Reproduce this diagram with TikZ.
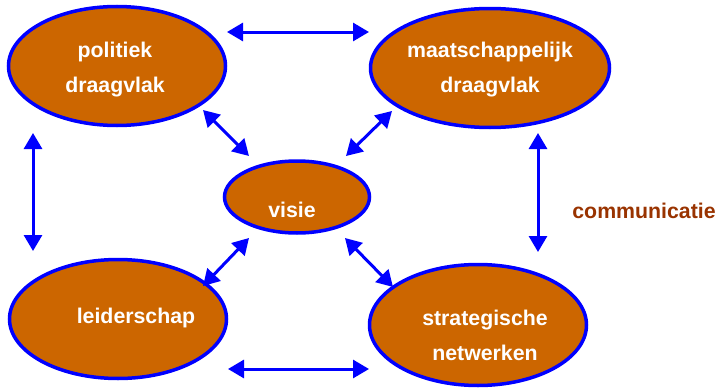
\documentclass[tikz,border=0pt]{standalone}
\usepackage{fontspec}
\setmainfont{Liberation Sans}
\usetikzlibrary{shapes.geometric,arrows.meta}
\definecolor{fillor}{HTML}{CC6600}
\definecolor{bblue}{HTML}{0000FF}
\definecolor{commc}{HTML}{993300}
\begin{document}
\begin{tikzpicture}[x=1pt,y=-1pt,
  blob/.style={ellipse,draw=bblue,fill=fillor,line width=3.5pt,inner sep=0pt},
  lbl/.style={text=white,font=\bfseries\fontsize{21.3}{35}\selectfont,align=center,inner sep=0pt},
  conn/.style={draw=bblue,line width=3pt,{Triangle[length=16pt,width=18pt]}-{Triangle[length=16pt,width=18pt]}}]
\useasboundingbox (0,0) rectangle (718,388);
\node[blob,minimum width=217pt,minimum height=119pt] (pol) at (117,66) {};
\node[blob,minimum width=239pt,minimum height=119pt] (maat) at (490,68) {};
\node[blob,minimum width=145pt,minimum height=72pt] (vis) at (297,197) {};
\node[blob,minimum width=217pt,minimum height=119pt] (lei) at (118,319) {};
\node[blob,minimum width=217pt,minimum height=121pt] (str) at (478,325) {};
\node[lbl] (tpol) at (115,70) {politiek\\draagvlak};
\node[lbl] (tmaat) at (490,70) {maatschappelijk\\draagvlak};
\node[lbl] (tvis) at (292,210) {visie};
\node[lbl] (tlei) at (136,318) {leiderschap};
\node[lbl] (tstr) at (485,335) {strategische\\netwerken};
\node[text=commc,font=\bfseries\fontsize{21.3}{24}\selectfont,inner sep=0pt] (comm) at (644,211) {communicatie};
\coordinate (t1) at (227,32); \coordinate (t2) at (369,32);
\coordinate (b1) at (228,369); \coordinate (b2) at (369,369);
\coordinate (l1) at (33,133); \coordinate (l2) at (33,251);
\coordinate (r1) at (538,133); \coordinate (r2) at (538,252);
\coordinate (d1a) at (203,110); \coordinate (d1b) at (249,156);
\coordinate (d2a) at (392,111); \coordinate (d2b) at (346,156);
\coordinate (d3a) at (203,286); \coordinate (d3b) at (249,238);
\coordinate (d4a) at (345,238); \coordinate (d4b) at (393,287);
\draw[conn] (t1) -- (t2);
\draw[conn] (b1) -- (b2);
\draw[conn] (l1) -- (l2);
\draw[conn] (r1) -- (r2);
\draw[conn] (d1a) -- (d1b);
\draw[conn] (d2a) -- (d2b);
\draw[conn] (d3a) -- (d3b);
\draw[conn] (d4a) -- (d4b);
\end{tikzpicture}
\end{document}
